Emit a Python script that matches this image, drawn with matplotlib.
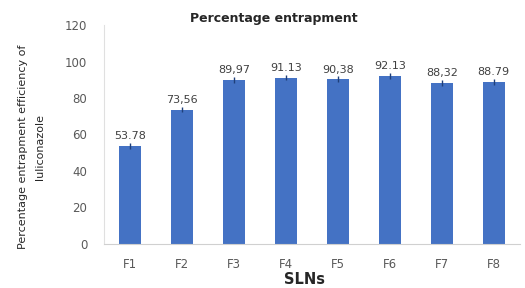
import matplotlib.pyplot as plt
import numpy as np

# values
formulations = ["F1", "F2", "F3", "F4", "F5", "F6", "F7", "F8"]
entrapment = [53.78, 73.56, 89.97, 91.13, 90.38, 92.13, 88.32, 88.79]
value_labels = ["53.78", "73,56", "89,97", "91.13", "90,38", "92.13", "88,32", "88.79"]
errors = [1.5, 1.5, 1.5, 1.5, 1.5, 1.5, 1.5, 1.5]

fig = plt.figure(figsize=(5.25, 2.88), dpi=100)
ax = fig.add_axes([0.198, 0.153, 0.792, 0.76])

x = np.arange(len(formulations))
ax.bar(x, entrapment, width=0.42, color="#4472C4", zorder=2)
ax.errorbar(x, entrapment, yerr=errors, fmt="none", ecolor="#1f3f7a",
            elinewidth=1, capsize=0, zorder=3)

for xi, v, lab in zip(x, entrapment, value_labels):
    ax.text(xi, v + 2.5, lab, ha="center", va="bottom", fontsize=8, color="#404040")

ax.set_xlim(-0.5, len(formulations) - 0.5)
ax.set_ylim(0, 120)
ax.set_yticks(range(0, 121, 20))
ax.set_xticks(x)
ax.set_xticklabels(formulations)
ax.tick_params(axis="both", length=0, labelsize=8.5, labelcolor="#595959")
ax.tick_params(axis="y", pad=12)
ax.tick_params(axis="x", pad=10)

for side in ["top", "right"]:
    ax.spines[side].set_visible(False)
ax.spines["left"].set_color("#e0e0e0")
ax.spines["bottom"].set_color("#d0d0d0")

fig.text(0.522, 0.935, "Percentage entrapment", ha="center", va="center",
         fontsize=9, fontweight="bold", color="#262626")
fig.text(0.58, 0.03, "SLNs", ha="center", va="center",
         fontsize=10.5, fontweight="bold", color="#262626")
fig.text(0.06, 0.49, "Percentage entrapment efficiency of\nluliconazole",
         ha="center", va="center", rotation=90, fontsize=8,
         color="#262626", linespacing=1.9)

fig.savefig("out.png", dpi=100)
